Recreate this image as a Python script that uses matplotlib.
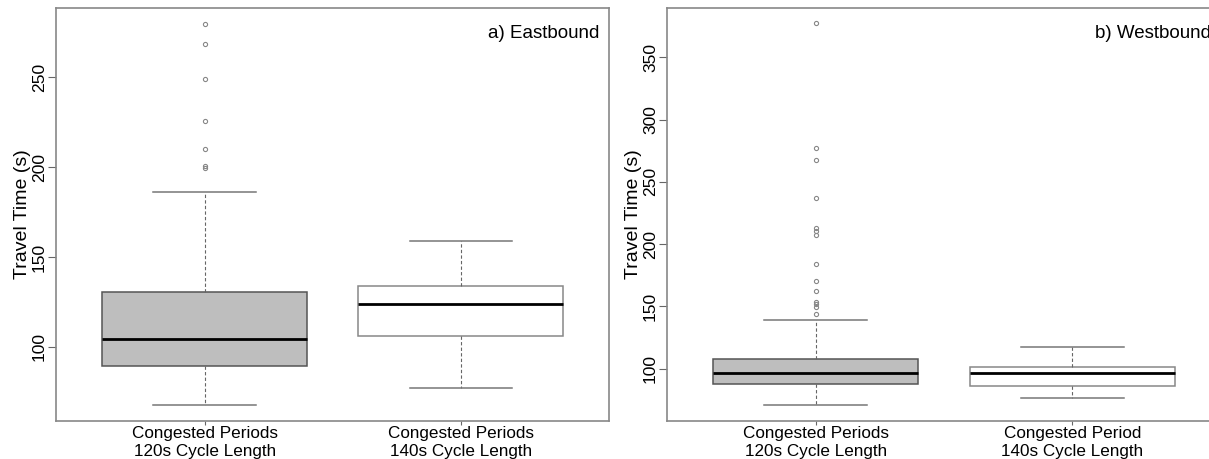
import numpy as np
import matplotlib
matplotlib.use('Agg')
import matplotlib.pyplot as plt

plt.rcParams['font.family'] = ['Liberation Sans', 'DejaVu Sans']

groups = ['Congested Periods\n120s Cycle Length', 'Congested Periods\n140s Cycle Length']
groups_wb = ['Congested Periods\n120s Cycle Length', 'Congested Period\n140s Cycle Length']

# eastbound (q1, median, q3, lower whisker, upper whisker)
eb_q1 = [89.1, 106.0]
eb_med = [104.1, 123.6]
eb_q3 = [130.6, 134.0]
eb_lo = [67.4, 77.2]
eb_hi = [186.3, 158.7]
eb_out = [[279.9, 268.7, 249.2, 225.7, 210.1, 200.8, 199.8], []]

# westbound
wb_q1 = [87.5, 86.1]
wb_med = [96.3, 96.8]
wb_q3 = [107.8, 101.6]
wb_lo = [70.6, 76.2]
wb_hi = [138.9, 117.7]
wb_out = [[377.3, 277.2, 267.6, 236.8, 213.2, 210.5, 207.3, 184.3, 170.6,
           162.1, 153.3, 151.7, 149.5, 143.9], []]

fills = ['#bebebe', 'white']
edges = ['#555555', '#888888']


def draw(ax, q1, med, q3, lo, hi, out, labels, title, ylim, yticks):
    stats = []
    for i in range(2):
        stats.append({'q1': q1[i], 'med': med[i], 'q3': q3[i],
                      'whislo': lo[i], 'whishi': hi[i], 'fliers': out[i]})
    bp = ax.bxp(stats, positions=[1, 2], widths=0.8, patch_artist=True,
                showfliers=True,
                medianprops=dict(color='black', linewidth=2.0),
                whiskerprops=dict(color='#666666', linewidth=0.8, linestyle=(0, (3, 2))),
                capprops=dict(color='#777777', linewidth=1.1),
                flierprops=dict(marker='o', markersize=3.0, markerfacecolor='none',
                                markeredgecolor='#888888', markeredgewidth=0.8),
                capwidths=0.4)
    for b, fc, ec in zip(bp['boxes'], fills, edges):
        b.set_facecolor(fc)
        b.set_edgecolor(ec)
        b.set_linewidth(1.1)
    ax.set_xlim(0.42, 2.58)
    ax.set_ylim(*ylim)
    ax.set_xticks([1, 2])
    ax.set_xticklabels(labels, fontsize=12.3, linespacing=1.25)
    ax.set_yticks(yticks)
    ax.set_yticklabels([str(t) for t in yticks], rotation=90, va='center', fontsize=12.6)
    ax.tick_params(axis='y', length=6, width=0.8, color='#666666', pad=0.5)
    ax.tick_params(axis='x', length=3, width=0.8, color='#666666', pad=1)
    ax.set_ylabel('Travel Time (s)', fontsize=14)
    ax.yaxis.set_label_coords(-0.046, 0.5)
    for s in ax.spines.values():
        s.set_color('#888888')
        s.set_linewidth(1.2)
    ax.text(0.982, 0.94, title, transform=ax.transAxes, ha='right', va='center', fontsize=13.5)


fig = plt.figure(figsize=(12.09, 4.59), dpi=100)
ax1 = fig.add_axes([0.0463, 0.0838, 0.4577, 0.898])
ax2 = fig.add_axes([0.5517, 0.0838, 0.4582, 0.898])

draw(ax1, eb_q1, eb_med, eb_q3, eb_lo, eb_hi, eb_out, groups, 'a) Eastbound',
     (58.9, 288.5), [100, 150, 200, 250])
draw(ax2, wb_q1, wb_med, wb_q3, wb_lo, wb_hi, wb_out, groups_wb, 'b) Westbound',
     (58.3, 389.3), [100, 150, 200, 250, 300, 350])

fig.savefig('out.png', dpi=100)
